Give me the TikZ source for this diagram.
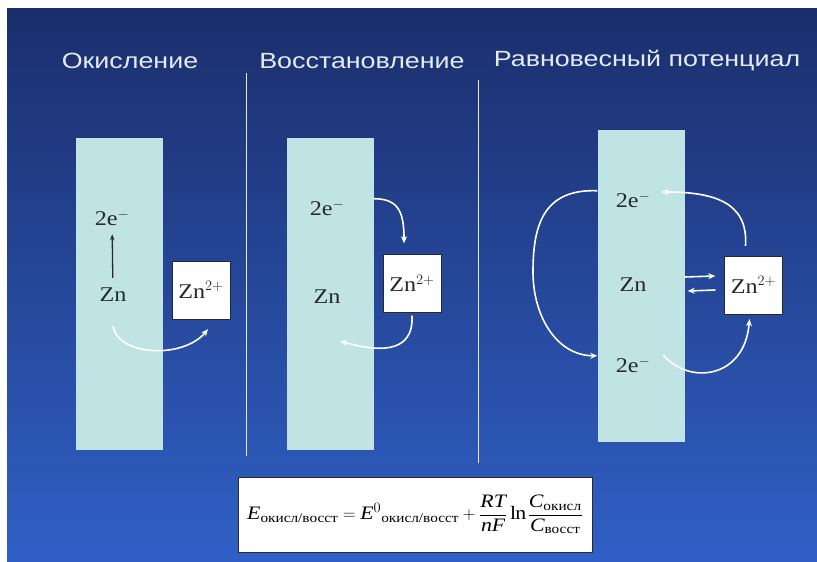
\documentclass[tikz,border=0pt]{standalone}
\usepackage{fontspec}
\usepackage{amsmath}
\setmainfont[FakeStretch=1.15]{Liberation Serif}
\newfontfamily\headfont[FakeStretch=1.22]{Liberation Sans}
\usepackage{xcolor}
\usetikzlibrary{arrows.meta}
\definecolor{topBlue}{RGB}{27,46,108}
\definecolor{bottomBlue}{RGB}{48,96,198}
\definecolor{metalCyan}{RGB}{192,228,228}
\definecolor{inkGray}{RGB}{38,42,44}
\definecolor{headWhite}{RGB}{228,235,245}

\tikzset{
  heading/.style={text=headWhite, font=\headfont\fontsize{22}{26}\selectfont},
  electrode/.style={fill=metalCyan, minimum width=87pt, minimum height=312pt, inner sep=0pt},
  species/.style={text=inkGray, font=\fontsize{21}{24}\selectfont, inner sep=1pt},
  ion/.style={fill=white, draw=inkGray, line width=0.4pt, text=inkGray,
    font=\fontsize{21}{24}\selectfont, minimum width=58pt, minimum height=58pt, inner sep=0pt},
  flow/.style={draw=white, line width=1.6pt, -{Stealth[length=7pt,width=6pt]}},
  separator/.style={draw=headWhite, line width=1pt},
}

\begin{document}
\begin{tikzpicture}[x=1pt, y=-1pt]
  \useasboundingbox (0,0) rectangle (817,562);
  \fill[white] (0,0) rectangle (817,562);
  \shade[top color=topBlue, bottom color=bottomBlue] (7,8) rectangle (817,562);

  \foreach \i/\cx/\txt in {1/130/Окисление, 2/362/Восстановление, 3/647/Равновесный потенциал}
  {
    \node[heading] (head\i) at (\cx,61) {\txt};
  }
  \draw[separator] (246,73) -- (246,456);
  \draw[separator] (478,80) -- (478,463);

  \foreach \i/\cx/\cy in {1/119.5/294, 2/330.5/294, 3/641/286}
  {
    \node[electrode] (el\i) at (\cx,\cy) {};
  }

  % oxidation
  \node[species] (e1) at (112,218) {2e$^-$};
  \node[species] (zn1) at (113,295) {Zn};
  \node[ion] (ion1) at (201,290) {Zn$^{2+}$};
  \draw[
    draw=inkGray,
    line width=1.3pt,
    shorten <=9pt,
    shorten >=7pt,
    -{Stealth[length=6pt,width=4.5pt]},
  ] (zn1) -- (e1);
  \draw[flow] ([yshift=-23pt]zn1.south) .. controls +(5,30) and +(-25,30) .. ([xshift=7pt,yshift=-10pt]ion1.south);

  % reduction
  \node[species] (e2) at (327,208) {2e$^-$};
  \node[species] (zn2) at (327,297) {Zn};
  \node[ion] (ion2) at (412,283.5) {Zn$^{2+}$};
  \draw[flow] (e2.north -| el2.east) .. controls +(25,0) and +(0,-30) .. ([xshift=-8pt,yshift=11pt]ion2.north);
  \draw[flow] ([yshift=-3pt]ion2.south) .. controls +(2,40) and +(35,10) .. ([xshift=13pt,yshift=-36pt]zn2.south);

  % equilibrium
  \node[species] (e3a) at (633,200) {2e$^-$};
  \node[species] (zn3) at (633,285) {Zn};
  \node[species] (e3b) at (633,365) {2e$^-$};
  \node[ion] (ion3) at (753.5,285) {Zn$^{2+}$};
  \coordinate (loopL) at (533,272);
  \draw[flow] (e3a.north -| el3.west) .. controls +(-55,-2) and +(0,-45) .. (loopL)
    .. controls +(0,45) and +(-40,0) .. (e3b.north -| el3.west);
  \draw[flow] ([xshift=-8pt,yshift=10pt]ion3.north) .. controls +(3,-45) and +(50,0) .. ([xshift=10pt,yshift=8pt]e3a.east);
  \draw[flow] ([xshift=12pt,yshift=10pt]e3b.east) .. controls +(25,30) and +(-5,60) .. ([xshift=-4pt,yshift=-5pt]ion3.south);
  \draw[flow] ([yshift=9pt]el3.east) -- ([xshift=-9pt,yshift=9pt]ion3.west);
  \draw[flow] ([xshift=-9pt,yshift=-5pt]ion3.west) -- ([xshift=3pt,yshift=-5pt]el3.east);

  \node[
    fill=white,
    draw=inkGray,
    line width=0.4pt,
    text=black,
    minimum width=354pt,
    minimum height=75pt,
    inner sep=0pt,
    font=\fontsize{19}{23}\selectfont,
  ] (nernst) at (415,514.5)
  {$\textit{E}_{\text{окисл/восст}} = \textit{E}^{0}{}_{\text{окисл/восст}}
    + \dfrac{\textit{RT}}{\textit{nF}}\ln\dfrac{\textit{C}_{\text{окисл}}}{\textit{C}_{\text{восст}}}$};
\end{tikzpicture}
\end{document}
